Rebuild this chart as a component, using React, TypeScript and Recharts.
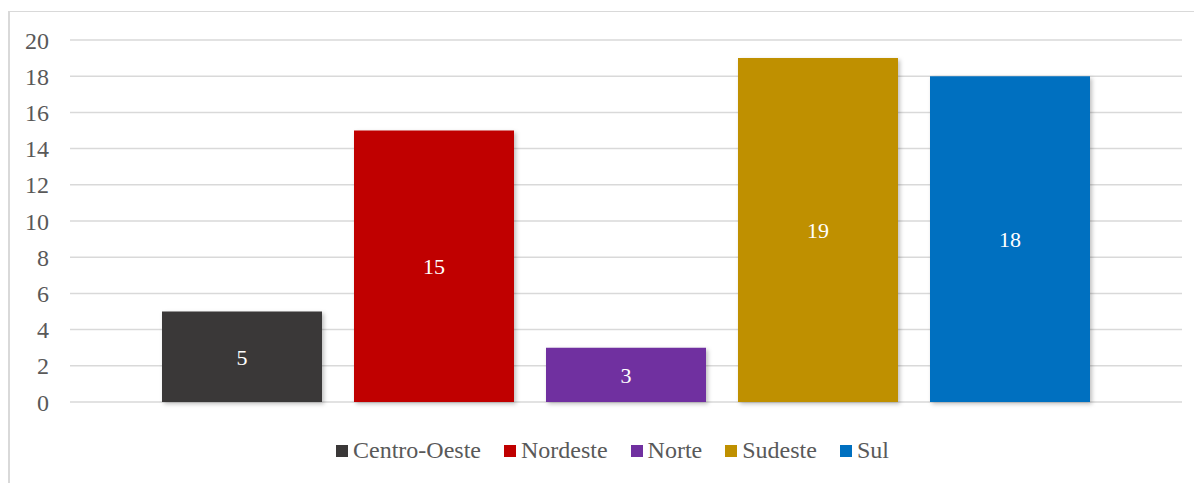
import React from "react";
import { BarChart, Bar, XAxis, YAxis, CartesianGrid, LabelList } from "recharts";

const seriesNames = ["Centro-Oeste", "Nordeste", "Norte", "Sudeste", "Sul"];
const seriesValues = [5, 15, 3, 19, 18];
const seriesColors = ["#3a3838", "#c00000", "#7030a0", "#bf9000", "#0070c0"];
const yTicks = [0, 2, 4, 6, 8, 10, 12, 14, 16, 18, 20];

const row: Record<string, number | string> = { name: "" };
seriesNames.forEach((n, i) => { row[n] = seriesValues[i]; });
const data = [row];

const serifFace = "Liberation Serif";

export default function App() {
  return (
    <div style={{ paddingTop: 3, fontFamily: serifFace }}>
      <style>{`.recharts-bar-rectangle path { filter: drop-shadow(2px 2px 2px rgba(0,0,0,0.25)); }`}</style>
      <div style={{ position: "relative", width: 1193, height: 471, borderLeft: "2px solid #d9d9d9", borderTop: "1px solid #d9d9d9", background: "#fff" }}>
        <BarChart
          width={1192}
          height={471}
          data={data}
          margin={{ top: 28, right: 20, left: 0, bottom: 81 }}
          barGap={32}
        >
          <CartesianGrid vertical={false} stroke="#d9d9d9" strokeWidth={1.5} />
          <XAxis dataKey="name" hide />
          <YAxis
            width={60}
            domain={[0, 20]}
            ticks={yTicks}
            axisLine={false}
            tickLine={false}
            tickSize={0}
            tickMargin={21}
            tick={{ fontSize: 24, fill: "#595959", fontFamily: serifFace }}
          />
          {seriesNames.map((n, i) => (
            <Bar key={n} dataKey={n} fill={seriesColors[i]} barSize={160} isAnimationActive={false}>
              <LabelList dataKey={n} position="center" fill="#ffffff" fontSize={22} fontFamily={serifFace} />
            </Bar>
          ))}
        </BarChart>
        <div style={{ position: "absolute", left: 326, top: 425, display: "flex", alignItems: "center", fontFamily: serifFace, fontSize: 24, color: "#595959", whiteSpace: "nowrap" }}>
          {seriesNames.map((n, i) => (
            <div key={n} style={{ display: "flex", alignItems: "center", marginRight: 23 }}>
              <div style={{ width: 12, height: 12, background: seriesColors[i], marginRight: 5 }} />
              <div>{n}</div>
            </div>
          ))}
        </div>
      </div>
    </div>
  );
}
